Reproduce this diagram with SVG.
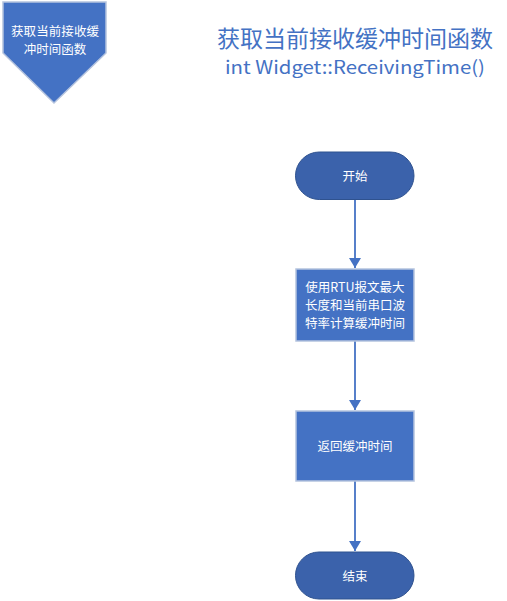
<svg xmlns="http://www.w3.org/2000/svg" width="507" height="601" viewBox="0 0 507 601">
<style>
.term{fill:#3B62AB;stroke:#2F528F;stroke-width:1}
.proc{fill:#4472C4;stroke:#B4C3DE;stroke-width:1.5}
.nt{font-family:"Noto Sans CJK SC","Liberation Sans",sans-serif;font-size:12.5px;fill:#FFFFFF;text-anchor:middle}
.conn{stroke:#4472C4;stroke-width:1.8;fill:none}
.title{font-family:"Noto Sans CJK SC","Liberation Sans",sans-serif;fill:#4472C4;text-anchor:middle}
</style>
<defs>
<marker id="ah" viewBox="0 0 10 12" refX="10" refY="6" markerWidth="10" markerHeight="12" markerUnits="userSpaceOnUse" orient="auto">
<path d="M0,0 L10,6 L0,12 Z" fill="#4472C4"/>
</marker>
</defs>
<rect width="507" height="601" fill="#FFFFFF"/>
<g id="offpage">
<path d="M3,2 H106 V53 L54,103 L3,53 Z" fill="#4472C4" stroke="#B4C3DE" stroke-width="1.5"/>
<text class="nt" x="55" y="35.5" font-size="12px" textLength="88" lengthAdjust="spacing">获取当前接收缓</text>
<text class="nt" x="55" y="53.5" font-size="12px">冲时间函数</text>
</g>
<g id="title">
<text class="title" x="355" y="47" font-size="22.5px" textLength="276" lengthAdjust="spacingAndGlyphs">获取当前接收缓冲时间函数</text>
<text class="title" x="355" y="74" font-size="18px" font-family="'Open Sans','Liberation Sans',sans-serif" textLength="260" lengthAdjust="spacingAndGlyphs">int Widget::ReceivingTime()</text>
</g>
<g id="connectors">
<line class="conn" x1="355" y1="200" x2="355" y2="268" marker-end="url(#ah)" />
<line class="conn" x1="355" y1="341" x2="355" y2="410" marker-end="url(#ah)" />
<line class="conn" x1="355" y1="481" x2="355" y2="551" marker-end="url(#ah)" />
</g>
<g id="start">
<rect class="term" x="295.5" y="152" width="118.5" height="47.5" rx="23.75" ry="23.75"/>
<text class="nt" x="355" y="180.5">开始</text>
</g>
<g id="calc">
<rect class="proc" x="296" y="269" width="118" height="72"/>
<text class="nt" x="355" y="291.5">使用RTU报文最大</text>
<text class="nt" x="355" y="309.5">长度和当前串口波</text>
<text class="nt" x="355" y="327.5">特率计算缓冲时间</text>
</g>
<g id="ret">
<rect class="proc" x="296" y="411" width="118" height="70"/>
<text class="nt" x="355" y="451">返回缓冲时间</text>
</g>
<g id="end">
<rect class="term" x="295.5" y="552" width="118.5" height="47" rx="23.5" ry="23.5"/>
<text class="nt" x="355" y="580.5">结束</text>
</g>
</svg>
